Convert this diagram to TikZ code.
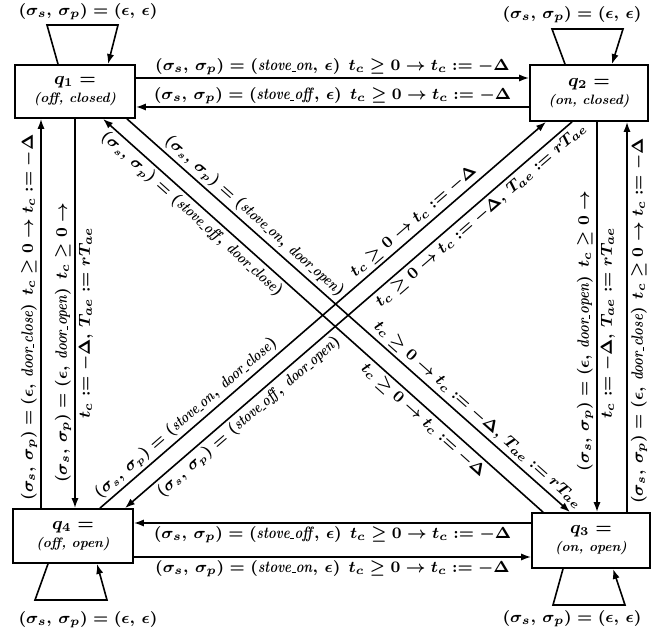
\documentclass[tikz,border=0pt]{standalone}
\usepackage{graphicx}
\usetikzlibrary{arrows.meta}
\newcommand{\SP}{(\sigma_s,\,\sigma_p)}
\newcommand{\tcd}{t_c \geq 0 \rightarrow t_c \mathrel{:=} -\Delta}
\newcommand{\tcr}{t_c \geq 0 \rightarrow t_c \mathrel{:=} -\Delta,\, T_{ae} \mathrel{:=} rT_{ae}}
\newcommand{\us}{\kern.03em\rule[-0.15ex]{0.3em}{0.45pt}\kern.03em}
\newcommand{\wrd}[1]{\scalebox{0.8}[1]{\textit{#1}}}
\begin{document}
\begin{tikzpicture}[x=0.5pt,y=-0.5pt,
  state/.style={draw,line width=0.9pt,align=center,inner sep=0pt,font=\fontsize{9}{10}\selectfont\bfseries\boldmath},
  tr/.style={line width=0.8pt,-{Latex[length=5pt,width=3.6pt]}},
  rt/.style={line width=0.8pt,{Latex[length=5pt,width=3.6pt]}-},
  lbl/.style={font=\fontsize{8.2}{10}\selectfont\bfseries\boldmath,inner sep=1.2pt},
  dlbl/.style={font=\fontsize{7.8}{9}\selectfont\bfseries\boldmath,inner sep=1.5pt,sloped},
  dmlbl/.style={font=\fontsize{8.1}{10}\selectfont\bfseries\boldmath,inner sep=1.5pt,sloped},
  vlbl/.style={font=\fontsize{8.2}{10}\selectfont\bfseries\boldmath,inner sep=1.5pt,sloped},
]
\path[use as bounding box] (0,0) rectangle (659,636);

% states
\node[state,minimum width=60pt,minimum height=26.5pt] (q1) at (75,91.5) {$q_1 =$\\[-1pt]{\fontsize{6.8}{7}\selectfont\itshape (off, closed)}};
\node[state,minimum width=59pt,minimum height=28pt] (q2) at (589,93) {$q_2 =$\\[-1pt]{\fontsize{6.8}{7}\selectfont\itshape (on, closed)}};
\node[state,minimum width=59pt,minimum height=27.5pt] (q3) at (591,540.5) {$q_3 =$\\[-1pt]{\fontsize{6.8}{7}\selectfont\itshape (on, open)}};
\node[state,minimum width=60pt,minimum height=27pt] (q4) at (73,536) {$q_4 =$\\[-1pt]{\fontsize{6.8}{7}\selectfont\itshape (off, open)}};

% helper coordinates
\coordinate (yA) at (0,78);
\coordinate (yB) at (0,107);
\coordinate (yC) at (0,523);
\coordinate (yD) at (0,557);
\coordinate (xA) at (41,0);
\coordinate (xB) at (75,0);
\coordinate (xC) at (597,0);
\coordinate (xD) at (627,0);
\coordinate (a1) at (127,0);
\coordinate (a2) at (570,0);
\coordinate (b1) at (103,0);
\coordinate (b2) at (543,0);
\coordinate (c1) at (100,0);
\coordinate (c2) at (546,0);
\coordinate (d1) at (125,0);
\coordinate (d2) at (572,0);

% horizontal transitions
\draw[tr] (q1.east |- yA) -- node[lbl,above] {$\SP = (\wrd{stove\us on},\,\epsilon)$\enspace$\tcd$} (q2.west |- yA);
\draw[rt] (q1.east |- yB) -- node[lbl,above] {$\SP = (\wrd{stove\us off},\,\epsilon)$\enspace$\tcd$} (q2.west |- yB);
\draw[rt] (q4.east |- yC) -- node[lbl,below] {$\SP = (\wrd{stove\us off},\,\epsilon)$\enspace$\tcd$} (q3.west |- yC);
\draw[tr] (q4.east |- yD) -- node[lbl,below] {$\SP = (\wrd{stove\us on},\,\epsilon)$\enspace$\tcd$} (q3.west |- yD);

% vertical transitions
\draw[tr] (q4.north -| xA) -- node[vlbl,pos=0.49,above] {$\SP = (\epsilon,\,\wrd{door\us close})$\enspace$\tcd$} (q1.south -| xA);
\draw[rt] (q4.north -| xB) --
  node[vlbl,pos=0.425,above] {$\SP = (\epsilon,\,\wrd{door\us open})$\enspace$t_c \geq 0 \rightarrow$}
  node[vlbl,pos=0.476,below] {$t_c \mathrel{:=} -\Delta,\, T_{ae} \mathrel{:=} rT_{ae}$} (q1.south -| xB);
\draw[rt] (q3.north -| xC) --
  node[vlbl,pos=0.464,above] {$\SP = (\epsilon,\,\wrd{door\us open})$\enspace$t_c \geq 0 \rightarrow$}
  node[vlbl,pos=0.485,below] {$t_c \mathrel{:=} -\Delta,\, T_{ae} \mathrel{:=} rT_{ae}$} (q2.south -| xC);
\draw[tr] (q3.north -| xD) -- node[vlbl,pos=0.49,below] {$\SP = (\epsilon,\,\wrd{door\us close})$\enspace$\tcd$} (q2.south -| xD);

% diagonal transitions
\draw[tr] (q1.south -| a1) --
  node[dlbl,pos=0.27,above] {$\SP = (\wrd{stove\us on},\,\wrd{door\us open})$}
  node[dmlbl,pos=0.775,above] {$\tcr$} (q3.north -| a2);
\draw[rt] (q1.south -| b1) --
  node[dlbl,pos=0.22,below] {$\SP = (\wrd{stove\us off},\,\wrd{door\us close})$}
  node[dmlbl,pos=0.745,below] {$\tcd$} (q3.north -| b2);
\draw[tr] (q4.north -| c1) --
  node[dlbl,pos=0.21,above] {$\SP = (\wrd{stove\us on},\,\wrd{door\us close})$}
  node[dmlbl,pos=0.72,above] {$\tcd$} (q2.south -| c2);
\draw[rt] (q4.north -| d1) --
  node[dlbl,pos=0.26,below] {$\SP = (\wrd{stove\us off},\,\wrd{door\us open})$}
  node[dmlbl,pos=0.78,below] {$\tcr$} (q2.south -| d2);

% self loops
\coordinate (l1a) at (58,0);  \coordinate (l1b) at (108,0);
\coordinate (l2a) at (565,0); \coordinate (l2b) at (612,0);
\coordinate (l3a) at (563,0); \coordinate (l3b) at (613,0);
\coordinate (l4a) at (48,0);  \coordinate (l4b) at (97,0);
\draw[tr] (q1.north -| l1a) -- (47,25) -- (118,25) -- (q1.north -| l1b);
\draw[tr] (q2.north -| l2a) -- (552,29) -- (623,29) -- (q2.north -| l2b);
\draw[tr] (q3.south -| l3a) -- (553,605) -- (625,605) -- (q3.south -| l3b);
\draw[tr] (q4.south -| l4a) -- (35,600) -- (107,600) -- (q4.south -| l4b);
\node[lbl] (e1) at (88,12) {$\SP = (\epsilon,\,\epsilon)$};
\node[lbl] (e2) at (572,15) {$\SP = (\epsilon,\,\epsilon)$};
\node[lbl] (e3) at (572,619) {$\SP = (\epsilon,\,\epsilon)$};
\node[lbl] (e4) at (88,620) {$\SP = (\epsilon,\,\epsilon)$};
\end{tikzpicture}
\end{document}
